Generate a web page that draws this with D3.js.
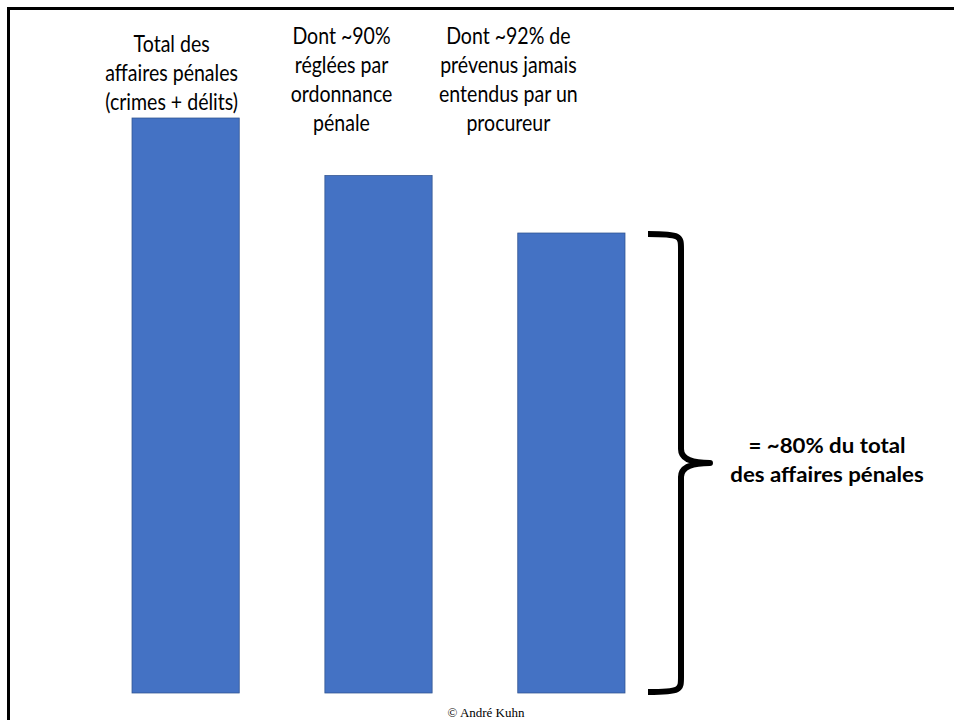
<!DOCTYPE html>
<html>
<head>
<meta charset="utf-8">
<script src="https://cdn.jsdelivr.net/npm/d3@7"></script>
<style>
    body { margin:0; background:white; }
    .label { font-family: Lato, "Open Sans", sans-serif; font-size:23px; fill:#000; }
    .note { font-family: Lato, "Open Sans", sans-serif; font-size:21px; font-weight:bold; fill:#000; }
    .credit { font-family: "Liberation Serif", "DejaVu Serif", serif; font-size:13px; fill:#000; }
</style>
</head>
<body>
<svg id="chart"></svg>
<script>
//data
var categories = ["total", "ordonnance", "procureur"];
var values = [100, 90, 80];
var labels = [
    ["Total des", "affaires pénales", "(crimes + délits)"],
    ["Dont ~90%", "réglées par", "ordonnance", "pénale"],
    ["Dont ~92% de", "prévenus jamais", "entendus par un", "procureur"]
];
var noteLines = ["= ~80% du total", "des affaires pénales"];
var credit = "© André Kuhn";

var screen = {width:954, height:720};
var margins = {top:118, bottom:27, left:132, right:329};
var graph = {width:screen.width-margins.left-margins.right, height:screen.height-margins.top-margins.bottom};

var svg = d3.select("#chart")
    .attr("width", screen.width)
    .attr("height", screen.height);

//frame of the slide
svg.append("path")
    .attr("d", "M8.5,"+screen.height+" L8.5,8.5 L"+screen.width+",8.5")
    .attr("fill", "none")
    .attr("stroke", "#000")
    .attr("stroke-width", 3);

var xScale = d3.scaleBand()
    .domain(categories)
    .range([0, graph.width])
    .paddingInner(0.444)
    .paddingOuter(0);
var yScale = d3.scaleLinear()
    .domain([0, 100])
    .range([graph.height, 0]);

var g = svg.append("g")
    .classed("graph", true)
    .attr("transform", "translate("+margins.left+","+margins.top+")");

//bars
g.selectAll("rect")
    .data(values)
    .enter()
    .append("rect")
    .attr("x", function(d, i){return xScale(categories[i])})
    .attr("y", function(d){return yScale(d)})
    .attr("width", xScale.bandwidth())
    .attr("height", function(d){return yScale(0)-yScale(d)})
    .attr("fill", "#4472C4")
    .attr("stroke", "#2F528F")
    .attr("stroke-width", 0.75);

//labels above the bars (they sit left of the bar centres in the slide)
var labelShift = [-14, -37, -63];
var labelTop = [52, 44, 44];
var lineGap = 29;
labels.forEach(function(lines, i){
    var cx = margins.left + xScale(categories[i]) + xScale.bandwidth()/2 + labelShift[i];
    var t = svg.append("g")
        .attr("transform", "translate("+cx+","+labelTop[i]+") scale(0.85,1)")
        .append("text")
        .classed("label", true)
        .attr("text-anchor", "middle");
    t.selectAll("tspan")
        .data(lines)
        .enter()
        .append("tspan")
        .attr("x", 0)
        .attr("y", function(d, j){return j*lineGap})
        .text(function(d){return d});
});

//brace around the last bar
var bx = xScale(categories[2]) + xScale.bandwidth();
var braceTop = yScale(values[2]), braceBottom = yScale(0), braceMid = (braceTop+braceBottom)/2;
var x0 = bx+23, x1 = bx+56, x2 = bx+85;
var brace = d3.path();
brace.moveTo(x0, braceTop+1);
brace.bezierCurveTo(x1, braceTop+1, x1, braceTop+3, x1, braceTop+16);
brace.lineTo(x1, braceMid-14);
brace.quadraticCurveTo(x1, braceMid, x2, braceMid);
brace.quadraticCurveTo(x1, braceMid, x1, braceMid+14);
brace.lineTo(x1, braceBottom-16);
brace.bezierCurveTo(x1, braceBottom-3, x1, braceBottom-1, x0, braceBottom-1);
g.append("path")
    .attr("d", brace.toString())
    .attr("fill", "none")
    .attr("stroke", "#000")
    .attr("stroke-width", 6)
    .attr("stroke-linejoin", "round");

//note next to the brace
var note = svg.append("g")
    .attr("transform", "translate(827,"+(margins.top+braceMid-10)+") scale(1.06,1)")
    .append("text")
    .classed("note", true)
    .attr("text-anchor", "middle");
note.selectAll("tspan")
    .data(noteLines)
    .enter()
    .append("tspan")
    .attr("x", 0)
    .attr("y", function(d, j){return j*29})
    .text(function(d){return d});

//credit
svg.append("text")
    .classed("credit", true)
    .attr("text-anchor", "middle")
    .attr("x", 486)
    .attr("y", 717)
    .text(credit);
</script>
</body>
</html>
